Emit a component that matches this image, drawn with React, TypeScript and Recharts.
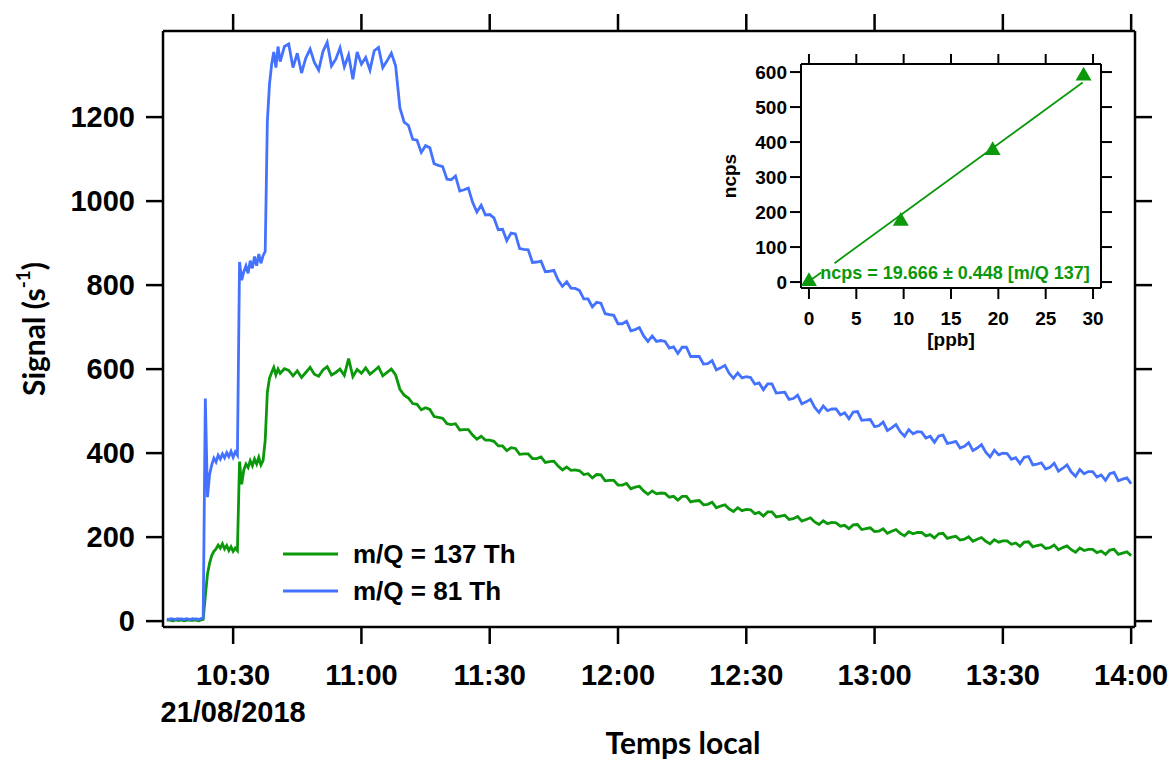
import React from 'react';
import {
  LineChart,
  ComposedChart,
  Line,
  Scatter,
  XAxis,
  YAxis,
  ZAxis,
  Legend,
  ReferenceDot,
} from 'recharts';

// sampling clock of the recorder (minutes after 10:00)
const earlyStart = 14.5;
const earlyStep = 0.5;
const lateStart = 41;
const lateStep = 1;

// m/Q = 81 Th, 10:14:30 -> 10:40:30 every 30 s
const blueEarly = [
  5, 4, 6, 5, 4, 6, 5, 5, 4, 6,
  5, 4, 6, 5, 5, 4, 6, 8, 530, 295,
  350, 372, 388, 379, 395, 386, 398, 389, 401, 392,
  404, 390, 403, 395, 855, 812, 832, 846, 828, 858,
  840, 868, 846, 874, 852, 870, 880, 1190, 1278, 1325,
  1355, 1318, 1368,
];

// m/Q = 137 Th, same clock
const greenEarly = [
  2, 3, 2, 1, 3, 2, 2, 3, 1, 2,
  3, 2, 2, 3, 2, 1, 3, 4, 60, 112,
  138, 156, 166, 172, 181, 174, 184, 172, 180, 168,
  177, 166, 174, 168, 380, 326, 360, 374, 366, 382,
  370, 386, 374, 390, 372, 382, 430, 545, 578, 592,
  604, 586, 600,
];

// m/Q = 81 Th, 10:41 -> 14:00 every minute
const blueLate = [
  1332, 1368, 1374, 1318, 1352, 1305, 1341, 1362, 1330, 1312,
  1356, 1378, 1322, 1338, 1365, 1320, 1348, 1290, 1355, 1326,
  1342, 1312, 1358, 1366, 1318, 1334, 1352, 1322, 1222, 1188,
  1180, 1147, 1145, 1116, 1132, 1127, 1089, 1085, 1082, 1052,
  1051, 1060, 1024, 1027, 1031, 997, 974, 990, 967, 968,
  960, 932, 933, 906, 924, 922, 887, 885, 884, 854,
  855, 857, 832, 833, 835, 812, 797, 808, 793, 792,
  787, 767, 767, 748, 759, 757, 732, 730, 728, 708,
  708, 714, 691, 694, 699, 679, 666, 679, 666, 668,
  666, 650, 653, 637, 652, 652, 630, 630, 630, 612,
  613, 620, 598, 603, 609, 590, 578, 591, 579, 582,
  580, 564, 567, 551, 565, 565, 543, 544, 545, 528,
  530, 538, 517, 522, 528, 509, 497, 512, 501, 505,
  505, 491, 496, 482, 498, 499, 478, 479, 480, 463,
  465, 474, 454, 460, 468, 451, 440, 456, 446, 451,
  450, 436, 440, 426, 441, 443, 423, 425, 428, 412,
  416, 425, 406, 412, 420, 402, 391, 407, 396, 400,
  399, 385, 389, 375, 390, 392, 372, 374, 377, 362,
  366, 376, 357, 364, 372, 355, 345, 361, 351, 356,
  356, 343, 348, 335, 351, 354, 334, 338, 341, 327,
];

// m/Q = 137 Th, 10:41 -> 14:00 every minute
const greenLate = [
  590, 601, 597, 584, 596, 580, 592, 604, 588, 583,
  598, 606, 586, 592, 600, 585, 625, 582, 599, 590,
  603, 588, 596, 605, 584, 592, 600, 586, 552, 538,
  531, 518, 516, 503, 508, 504, 487, 485, 483, 470,
  468, 470, 455, 456, 456, 443, 433, 440, 431, 431,
  428, 417, 417, 406, 413, 411, 397, 398, 398, 387,
  387, 391, 378, 380, 381, 369, 360, 367, 359, 360,
  358, 349, 351, 341, 349, 348, 334, 335, 335, 324,
  324, 328, 315, 319, 321, 310, 302, 310, 303, 305,
  304, 295, 297, 288, 297, 297, 284, 286, 287, 277,
  278, 283, 270, 274, 277, 267, 261, 270, 263, 266,
  265, 256, 259, 250, 260, 260, 248, 250, 252, 242,
  244, 249, 238, 242, 246, 236, 230, 239, 232, 235,
  234, 226, 228, 220, 229, 230, 218, 220, 222, 213,
  214, 220, 209, 214, 218, 209, 203, 213, 208, 211,
  211, 203, 206, 198, 208, 209, 197, 200, 202, 193,
  195, 201, 190, 195, 199, 190, 184, 194, 188, 191,
  191, 183, 186, 178, 188, 189, 177, 180, 182, 173,
  175, 181, 170, 175, 179, 170, 164, 174, 168, 171,
  171, 163, 167, 159, 169, 171, 159, 162, 165, 156,
];

const timeTicks = [30, 60, 90, 120, 150, 180, 210, 240];
const timeTickLabels = ['10:30', '11:00', '11:30', '12:00', '12:30', '13:00', '13:30', '14:00'];
const dateTick = 30;
const dateLabel = '21/08/2018';
const signalTicks = [0, 200, 400, 600, 800, 1000, 1200];

// calibration inset
const calibPpb = [0, 9.7, 19.4, 29.0];
const calibNcps = [2, 174, 376, 589];
const fitPpb = [0, 1.3, 2.0, 2.7, 28.9];
const fitNcps = [2, 27, null, 54, 570];
const ppbTicks = [0, 5, 10, 15, 20, 25, 30];
const ncpsTicks = [0, 100, 200, 300, 400, 500, 600];
const equationText = 'ncps = 19.666 ± 0.448 [m/Q 137]';
const equationAt = { ppb: 1.2, ncps: 26 };

const BLUE = '#4472ff';
const GREEN = '#0b980b';
const legendItems = [
  { label: 'm/Q = 137 Th', color: GREEN },
  { label: 'm/Q = 81 Th', color: BLUE },
];

const signalRows = [
  ...blueEarly.map((v, i) => ({ t: earlyStart + i * earlyStep, blue: v, green: greenEarly[i] })),
  ...blueLate.map((v, i) => ({ t: lateStart + i * lateStep, blue: v, green: greenLate[i] })),
];
const calibRows = calibPpb.map((p, i) => ({ ppb: p, ncps: calibNcps[i] }));
const fitRows = fitPpb.map((p, i) => ({ ppb: p, ncps: fitNcps[i] }));

const tickFamily = '"Liberation Sans", Arial, sans-serif';
const titleFamily = 'Lato, "Open Sans", sans-serif';
const axisStroke = { stroke: '#000', strokeWidth: 2.5 };
const insetStroke = { stroke: '#000', strokeWidth: 2 };

const NoTick = () => <g />;

const TimeTick = (props: any) => {
  const { x, y, payload } = props;
  const i = timeTicks.indexOf(payload.value);
  const style = { fontFamily: tickFamily, fontWeight: 700, fontSize: 29 };
  return (
    <g>
      <text x={x} y={y} dy="0.71em" textAnchor="middle" fill="#000" style={style}>
        {timeTickLabels[i]}
      </text>
      {payload.value === dateTick && (
        <text x={x} y={y + 37} dy="0.71em" textAnchor="middle" fill="#000" style={style}>
          {dateLabel}
        </text>
      )}
    </g>
  );
};

const SignalTitle = (props: any) => {
  const vb = props.viewBox || { x: 0, y: 31, width: 163, height: 596 };
  const cx = vb.x + 33;
  const cy = vb.y + vb.height / 2;
  return (
    <text
      x={cx}
      y={cy}
      transform={`rotate(-90, ${cx}, ${cy})`}
      textAnchor="middle"
      dominantBaseline="central"
      fill="#000"
      style={{ fontFamily: titleFamily, fontWeight: 700, fontSize: 30 }}
    >
      <tspan>Signal (s</tspan>
      <tspan dy={-11} fontSize={19}>-1</tspan>
      <tspan dy={11}>)</tspan>
    </text>
  );
};

const TimeTitle = (props: any) => {
  const vb = props.viewBox || { x: 163, y: 627, width: 972, height: 135 };
  return (
    <text
      x={vb.x + 520}
      y={vb.y + 115}
      textAnchor="middle"
      dominantBaseline="central"
      fill="#000"
      style={{ fontFamily: titleFamily, fontWeight: 700, fontSize: 30 }}
    >
      Temps local
    </text>
  );
};

const NcpsTitle = (props: any) => {
  const vb = props.viewBox || { x: 0, y: 20, width: 101, height: 224 };
  const cx = vb.x + 29;
  const cy = vb.y + vb.height / 2;
  return (
    <text
      x={cx}
      y={cy}
      transform={`rotate(-90, ${cx}, ${cy})`}
      textAnchor="middle"
      dominantBaseline="central"
      fill="#000"
      style={{ fontFamily: tickFamily, fontWeight: 700, fontSize: 19 }}
    >
      ncps
    </text>
  );
};

const PpbTitle = (props: any) => {
  const vb = props.viewBox || { x: 101, y: 244, width: 301, height: 66 };
  return (
    <text
      x={vb.x + vb.width / 2}
      y={vb.y + 51}
      textAnchor="middle"
      dominantBaseline="central"
      fill="#000"
      style={{ fontFamily: tickFamily, fontWeight: 700, fontSize: 19 }}
    >
      [ppb]
    </text>
  );
};

const EquationLabel = (props: any) => {
  const vb = props.viewBox || { x: 0, y: 0 };
  return (
    <text
      x={vb.x}
      y={vb.y}
      dominantBaseline="central"
      fill={GREEN}
      style={{ fontFamily: tickFamily, fontWeight: 700, fontSize: 18 }}
    >
      {equationText}
    </text>
  );
};

const SeriesLegend = () => (
  <div style={{ fontFamily: tickFamily, fontWeight: 700, fontSize: 26, color: '#000' }}>
    {legendItems.map((item) => (
      <div key={item.label} style={{ display: 'flex', alignItems: 'center', height: 37 }}>
        <svg width={55} height={6}>
          <line x1={0} y1={3} x2={55} y2={3} stroke={item.color} strokeWidth={3} />
        </svg>
        <span style={{ marginLeft: 15, lineHeight: 1 }}>{item.label}</span>
      </div>
    ))}
  </div>
);

function CalibrationInset() {
  return (
    <ComposedChart width={416} height={310} margin={{ top: 0, right: 0, bottom: 0, left: 0 }}>
      <XAxis
        xAxisId="bottom"
        dataKey="ppb"
        type="number"
        domain={[-0.84, 30.84]}
        ticks={ppbTicks}
        allowDataOverflow
        height={66}
        tickSize={11}
        tickMargin={13}
        axisLine={insetStroke}
        tickLine={insetStroke}
        tick={{ fill: '#000', fontSize: 19, fontWeight: 700, fontFamily: tickFamily }}
        label={<PpbTitle />}
      />
      <XAxis
        xAxisId="top"
        orientation="top"
        dataKey="ppb"
        type="number"
        domain={[-0.84, 30.84]}
        ticks={ppbTicks}
        allowDataOverflow
        height={20}
        tickSize={10}
        axisLine={insetStroke}
        tickLine={insetStroke}
        tick={NoTick}
      />
      <YAxis
        yAxisId="left"
        dataKey="ncps"
        type="number"
        domain={[-17, 623]}
        ticks={ncpsTicks}
        allowDataOverflow
        width={101}
        tickSize={11}
        tickMargin={3}
        axisLine={insetStroke}
        tickLine={insetStroke}
        tick={{ fill: '#000', fontSize: 19, fontWeight: 700, fontFamily: tickFamily }}
        label={<NcpsTitle />}
      />
      <YAxis
        yAxisId="right"
        orientation="right"
        type="number"
        domain={[-17, 623]}
        ticks={ncpsTicks}
        allowDataOverflow
        width={15}
        tickSize={11}
        axisLine={insetStroke}
        tickLine={insetStroke}
        tick={NoTick}
      />
      <ZAxis range={[110, 110]} />
      <Line
        xAxisId="top"
        yAxisId="right"
        data={fitRows}
        dataKey="ncps"
        stroke={GREEN}
        strokeWidth={1.8}
        dot={false}
        connectNulls={false}
        isAnimationActive={false}
      />
      <Scatter
        xAxisId="bottom"
        yAxisId="left"
        data={calibRows}
        dataKey="ncps"
        shape="triangle"
        fill={GREEN}
        isAnimationActive={false}
      />
      <ReferenceDot
        xAxisId="bottom"
        yAxisId="left"
        x={equationAt.ppb}
        y={equationAt.ncps}
        r={0}
        stroke="none"
        label={<EquationLabel />}
      />
    </ComposedChart>
  );
}

export default function App() {
  return (
    <div style={{ position: 'absolute', left: 0, top: 0, width: 1173, height: 762, background: '#fff' }}>
      <LineChart width={1173} height={762} data={signalRows} margin={{ top: 0, right: 0, bottom: 0, left: 0 }}>
        <XAxis
          xAxisId="bottom"
          dataKey="t"
          type="number"
          domain={[13.6, 240.9]}
          ticks={timeTicks}
          allowDataOverflow
          height={135}
          tickSize={17}
          tickMargin={20}
          axisLine={axisStroke}
          tickLine={axisStroke}
          tick={(p: any) => <TimeTick {...p} />}
          label={<TimeTitle />}
        />
        <XAxis
          xAxisId="top"
          orientation="top"
          dataKey="t"
          type="number"
          domain={[13.6, 240.9]}
          ticks={timeTicks}
          allowDataOverflow
          height={31}
          tickSize={17}
          axisLine={axisStroke}
          tickLine={axisStroke}
          tick={NoTick}
        />
        <YAxis
          yAxisId="left"
          type="number"
          domain={[-14, 1405]}
          ticks={signalTicks}
          allowDataOverflow
          width={163}
          tickSize={17}
          tickMargin={11}
          axisLine={axisStroke}
          tickLine={axisStroke}
          tick={{ fill: '#000', fontSize: 29, fontWeight: 700, fontFamily: tickFamily }}
          label={<SignalTitle />}
        />
        <YAxis
          yAxisId="right"
          orientation="right"
          type="number"
          domain={[-14, 1405]}
          ticks={signalTicks}
          allowDataOverflow
          width={38}
          tickSize={17}
          axisLine={axisStroke}
          tickLine={axisStroke}
          tick={NoTick}
        />
        <Legend
          layout="vertical"
          align="center"
          verticalAlign="middle"
          content={<SeriesLegend />}
          wrapperStyle={{ left: 283, top: 535, width: 'auto', height: 'auto' }}
        />
        <Line
          xAxisId="top"
          yAxisId="right"
          dataKey="green"
          stroke={GREEN}
          strokeWidth={2.8}
          dot={false}
          isAnimationActive={false}
        />
        <Line
          xAxisId="bottom"
          yAxisId="left"
          dataKey="blue"
          stroke={BLUE}
          strokeWidth={2.8}
          dot={false}
          isAnimationActive={false}
        />
      </LineChart>
      <div style={{ position: 'absolute', left: 700, top: 44 }}>
        <CalibrationInset />
      </div>
    </div>
  );
}
